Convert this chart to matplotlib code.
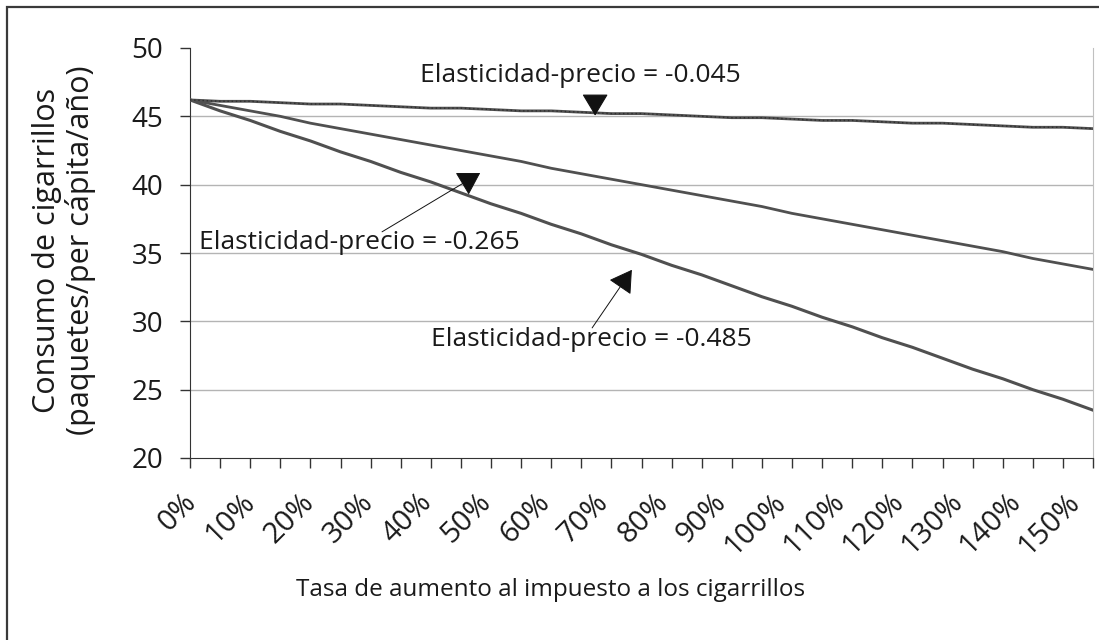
import matplotlib
matplotlib.use("Agg")
import matplotlib.pyplot as plt
import matplotlib.transforms as mtransforms
from matplotlib.patches import Rectangle
from matplotlib.ticker import MultipleLocator, FuncFormatter

plt.rcParams['font.family'] = ['Open Sans', 'DejaVu Sans']

# Tax increase (%) and consumption (packs per capita per year)
tax_pct = [0, 5, 10, 15, 20, 25, 30, 35, 40, 45, 50, 55, 60, 65, 70, 75,
           80, 85, 90, 95, 100, 105, 110, 115, 120, 125, 130, 135, 140, 145, 150]
cons_e045 = [46.2, 46.1, 46.1, 46.0, 45.9, 45.9, 45.8, 45.7, 45.6, 45.6, 45.5,
             45.4, 45.4, 45.3, 45.2, 45.2, 45.1, 45.0, 44.9, 44.9, 44.8, 44.7,
             44.7, 44.6, 44.5, 44.5, 44.4, 44.3, 44.2, 44.2, 44.1]
cons_e265 = [46.2, 45.8, 45.4, 45.0, 44.5, 44.1, 43.7, 43.3, 42.9, 42.5, 42.1,
             41.7, 41.2, 40.8, 40.4, 40.0, 39.6, 39.2, 38.8, 38.4, 37.9, 37.5,
             37.1, 36.7, 36.3, 35.9, 35.5, 35.1, 34.6, 34.2, 33.8]
cons_e485 = [46.2, 45.4, 44.7, 43.9, 43.2, 42.4, 41.7, 40.9, 40.2, 39.4, 38.6,
             37.9, 37.1, 36.4, 35.6, 34.9, 34.1, 33.4, 32.6, 31.8, 31.1, 30.3,
             29.6, 28.8, 28.1, 27.3, 26.5, 25.8, 25.0, 24.3, 23.5]
labels = ["Elasticidad-precio = -0.045", "Elasticidad-precio = -0.265",
          "Elasticidad-precio = -0.485"]

fig = plt.figure(figsize=(10.99, 6.40), dpi=100)
ax = fig.add_axes([190/1099, 1-458/640, (1093-190)/1099, (458-48)/640])

# outer frame
fig.patches.append(Rectangle((7/1099, -0.05), 1.2, 1-7/640+0.05,
                             transform=fig.transFigure, fill=False,
                             edgecolor='#3a3a3a', linewidth=1.6))

for yv in [25, 30, 35, 40, 45]:
    ax.axhline(yv, color='#b4b4b4', linewidth=1.0, zorder=1)

lc = '#505050'
ax.plot(tax_pct, cons_e045, color=lc, linewidth=2.0, zorder=3)
ax.plot(tax_pct, cons_e045, color='#2e2e2e', linewidth=1.0, linestyle=(0, (1, 2)), zorder=4)
ax.plot(tax_pct, cons_e265, color=lc, linewidth=2.0, zorder=3)
ax.plot(tax_pct, cons_e485, color=lc, linewidth=2.2, zorder=3)

ax.set_xlim(0, 150)
ax.set_ylim(20, 50)
ax.xaxis.set_major_locator(MultipleLocator(10))
ax.xaxis.set_minor_locator(MultipleLocator(5))
ax.xaxis.set_major_formatter(FuncFormatter(lambda v, p: f"{int(round(v))}%"))
ax.yaxis.set_major_locator(MultipleLocator(5))
ax.tick_params(axis='both', which='both', direction='out', length=7.2, width=1.0,
               colors='#333333', labelcolor='#1a1a1a')
ax.tick_params(axis='x', labelsize=21, pad=14)
ax.tick_params(axis='y', labelsize=20, pad=12)
fig.canvas.draw()
for lab in ax.get_xticklabels():
    t = lab.get_position()[0]
    dx_px = -8 - 0.13 * t
    shift = mtransforms.ScaledTranslation(dx_px / 100, 0, fig.dpi_scale_trans)
    lab.set_rotation(45)
    lab.set_ha('right')
    lab.set_rotation_mode('anchor')
    lab.set_transform(lab.get_transform() + shift)

ax.spines['top'].set_visible(False)
ax.spines['right'].set_color('#c0c0c0')
ax.spines['left'].set_color('#333333')
ax.spines['bottom'].set_color('#333333')

fig.text(551/1099, 1-590/640, "Tasa de aumento al impuesto a los cigarrillos",
         fontsize=17.5, color='#1a1a1a', ha='center', va='center')
fig.text(64/1099, 1-250/640, "Consumo de cigarrillos\n(paquetes/per cápita/año)",
         fontsize=22, color='#1a1a1a', ha='center', va='center', rotation=90,
         linespacing=1.1, multialignment='center')

fs = 19
arrow_kw = dict(arrowstyle='-|>,head_length=1.0,head_width=0.6',
                color='#111111', shrinkA=0, shrinkB=0, mutation_scale=14)
# annotation 1 (arrowhead only)
ax.text(64.8, 47.98, labels[0], fontsize=fs, ha='center', va='center', color='#1a1a1a')
ax.annotate('', xy=(67.3, 45.05), xytext=(67.3, 46.4),
            arrowprops=dict(lw=0.8, **arrow_kw), zorder=6)
# annotation 2
ax.text(28.1, 35.75, labels[1], fontsize=fs, ha='center', va='center', color='#1a1a1a')
ax.annotate('', xy=(48.2, 40.85), xytext=(31.9, 36.55),
            arrowprops=dict(lw=0.7, **arrow_kw), zorder=6)
# annotation 3
ax.text(66.6, 28.64, labels[2], fontsize=fs, ha='center', va='center', color='#1a1a1a')
ax.annotate('', xy=(73.4, 33.77), xytext=(66.8, 29.52),
            arrowprops=dict(lw=0.7, **arrow_kw), zorder=6)

fig.savefig("out.png", dpi=100)
